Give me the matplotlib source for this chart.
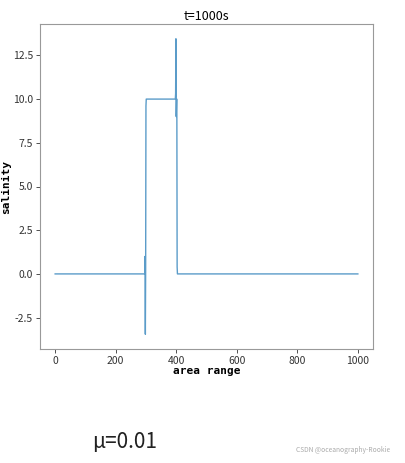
"""
salinity profile at t=1000s
"""

import matplotlib
matplotlib.use("Agg")
import matplotlib.pyplot as plt

# profile
x = [0, 296, 297, 298, 299, 300, 301, 302, 397, 398, 399, 400, 401, 402, 403, 404, 1000]
salinity = [0, 0, 1.0, -3.45, 0.3, 9.6, 10, 10, 10, 10.3, 13.45, 9.0, 10.0, 10.0, 0.4, 0, 0]

xticks = [0, 200, 400, 600, 800, 1000]
yticks = [-2.5, 0.0, 2.5, 5.0, 7.5, 10.0, 12.5]

plt.rcParams["font.family"] = ["Noto Sans CJK SC", "DejaVu Sans"]

fig = plt.figure(figsize=(4.05, 4.63), dpi=100)
ax = fig.add_axes([40 / 405, 1 - 349 / 463, 333 / 405, 325 / 463])

ax.plot(x, salinity, color="#5b9cc9", lw=1.0)

ax.set_title("t=1000s", fontsize=9, pad=3)
ax.set_xlabel("area range", fontsize=8, family="DejaVu Sans Mono", weight="bold", labelpad=0)
ax.set_ylabel("salinity", fontsize=8, family="DejaVu Sans Mono", weight="bold", labelpad=1)
ax.set_xticks(xticks)
ax.set_yticks(yticks)
ax.set_yticklabels([f"{v:.1f}" for v in yticks])
ax.tick_params(labelsize=7.5, colors="#333333", length=3, width=0.6, pad=2)
for s in ax.spines.values():
    s.set_color("#999999")
    s.set_linewidth(0.8)

fig.text(92 / 405, 1 - 442 / 463, "μ=0.01", fontsize=15, va="center", color="#222222")
fig.text(296 / 405, 1 - 450 / 463, "CSDN @oceanography-Rookie", fontsize=4.8, va="center", color="#aaaaaa")

fig.savefig("out.png", dpi=100)
